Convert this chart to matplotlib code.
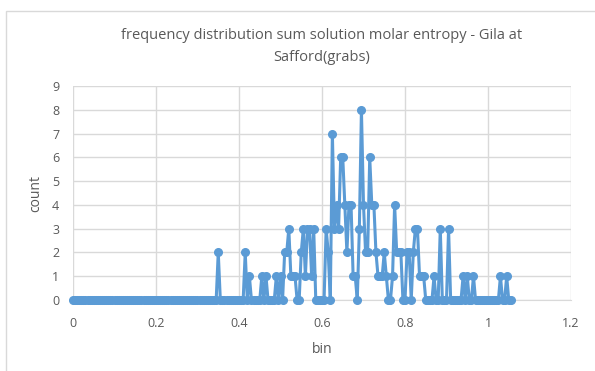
import numpy as np
import matplotlib
matplotlib.use("Agg")
import matplotlib.pyplot as plt
from matplotlib.patches import Rectangle

# bins of the frequency distribution (width 0.005, 0 .. 1.055)
bin_width = 0.005
n_bins = 212

# only the non-empty bins, everything else is 0
peak_bins = [0.350, 0.415, 0.425, 0.455, 0.465, 0.490, 0.500, 0.510, 0.515,
             0.520, 0.525, 0.530, 0.535, 0.550, 0.555, 0.560, 0.565, 0.570,
             0.575, 0.580, 0.610, 0.615, 0.625, 0.630, 0.635, 0.640, 0.645,
             0.650, 0.655, 0.660, 0.665, 0.670, 0.675, 0.680, 0.690, 0.695,
             0.700, 0.705, 0.710, 0.715, 0.720, 0.725, 0.730, 0.735, 0.740,
             0.745, 0.750, 0.755, 0.760, 0.770, 0.775, 0.780, 0.785, 0.790,
             0.800, 0.805, 0.810, 0.815, 0.820, 0.825, 0.830, 0.835, 0.840,
             0.845, 0.870, 0.885, 0.905, 0.940, 0.950, 0.965, 1.030, 1.045]
peak_counts = [2, 2, 1, 1, 1, 1, 1, 2, 2,
               3, 1, 1, 1, 2, 3, 1, 3, 3,
               1, 3, 3, 2, 7, 3, 4, 3, 6,
               6, 4, 2, 4, 4, 1, 1, 3, 8,
               4, 2, 2, 6, 4, 4, 2, 1, 1,
               1, 2, 1, 0, 1, 4, 2, 2, 2,
               0, 2, 2, 0, 2, 3, 3, 1, 1,
               1, 1, 3, 3, 1, 1, 1, 1, 1]

bins = np.round(np.arange(n_bins) * bin_width, 3)
counts = np.zeros(n_bins)
for b, c in zip(peak_bins, peak_counts):
    counts[int(round(b / bin_width))] = c

plt.rcParams['font.family'] = ['Open Sans', 'DejaVu Sans']

fig = plt.figure(figsize=(5.95, 3.71), dpi=100)
W, H = 595, 371
ax = fig.add_axes([73 / W, 1 - 300 / H, (571 - 73) / W, (300 - 86) / H])

# chart border
fig.patches.append(Rectangle((6 / W, -0.05), 1.0, 1 - 11 / H + 0.05,
                             transform=fig.transFigure, fill=False,
                             edgecolor='#d9d9d9', linewidth=1))

ax.plot(bins, counts, color='#5b9bd5', linewidth=2.2, marker='o',
        markersize=5.5, zorder=3, clip_on=False)

ax.set_xlim(0, 1.2)
ax.set_ylim(0, 9)
ax.set_xticks(np.arange(0, 1.21, 0.2))
ax.set_xticklabels(['0', '0.2', '0.4', '0.6', '0.8', '1', '1.2'])
ax.set_yticks(range(0, 10))
ax.grid(True, color='#d9d9d9', linewidth=1)
ax.set_axisbelow(True)
for s in ['top', 'right', 'left']:
    ax.spines[s].set_visible(False)
ax.spines['bottom'].set_color('#d9d9d9')
ax.tick_params(length=0, labelsize=9, colors='#595959')
ax.tick_params(axis='x', pad=12)
ax.tick_params(axis='y', pad=10)

ax.set_xlabel('bin', fontsize=10, color='#595959', labelpad=9)
ax.set_ylabel('count', fontsize=10, color='#595959', labelpad=6)
ax.set_title('frequency distribution sum solution molar entropy - Gila at\nSafford(grabs)',
             fontsize=10.5, color='#595959', pad=18, linespacing=1.65)

fig.savefig('out.png', dpi=100)
